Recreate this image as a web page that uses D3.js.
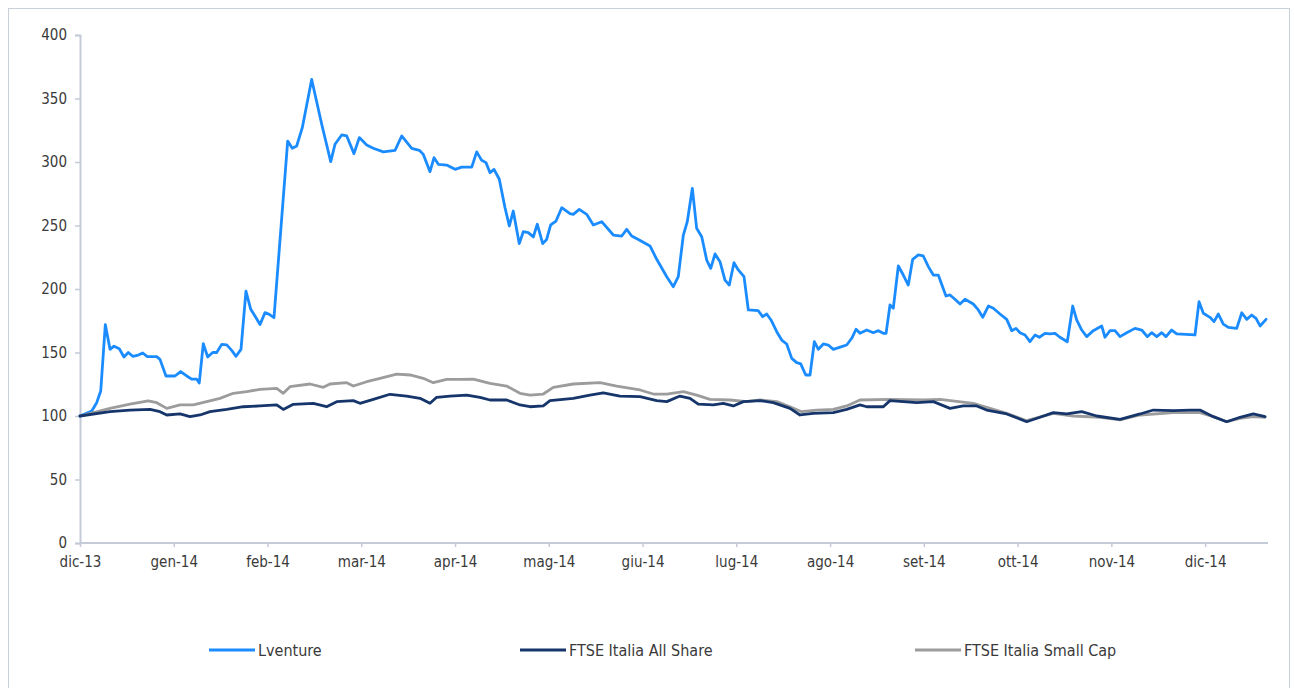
<!DOCTYPE html>
<html>
<head>
<meta charset="utf-8">
<script src="https://cdn.jsdelivr.net/npm/d3@7"></script>
<style>
html,body{margin:0;padding:0;background:#fff;}
svg text{font-family:"DejaVu Sans Condensed","DejaVu Sans",sans-serif;fill:#3a3a3a;}
</style>
</head>
<body>
<svg id="chart" width="1295" height="688"></svg>
<script>
// ---- data (t = months since dic-13) ----
const monthLabels = ["dic-13","gen-14","feb-14","mar-14","apr-14","mag-14","giu-14","lug-14","ago-14","set-14","ott-14","nov-14","dic-14"];
const yTicks = [0,50,100,150,200,250,300,350,400];
const seriesNames = ["Lventure","FTSE Italia All Share","FTSE Italia Small Cap"];

const lventureT = [0,0.125,0.178,0.221,0.27,0.32,0.363,0.419,0.469,0.515,0.562,0.622,0.669,0.718,0.818,0.853,0.917,1.013,1.074,1.138,1.191,1.245,1.272,1.315,1.362,1.415,1.458,1.511,1.565,1.618,1.664,1.717,1.77,1.821,1.866,1.92,1.973,2.019,2.069,2.215,2.264,2.311,2.371,2.471,2.578,2.674,2.72,2.791,2.845,2.922,2.979,3.058,3.128,3.235,3.36,3.431,3.538,3.619,3.662,3.733,3.776,3.822,3.911,4.0,4.071,4.178,4.231,4.284,4.33,4.373,4.416,4.472,4.533,4.579,4.621,4.685,4.728,4.781,4.835,4.877,4.935,4.977,5.02,5.077,5.138,5.226,5.261,5.325,5.404,5.475,5.564,5.688,5.778,5.831,5.884,5.955,6.079,6.151,6.258,6.328,6.381,6.435,6.477,6.531,6.577,6.631,6.684,6.727,6.773,6.826,6.879,6.925,6.975,7.021,7.082,7.128,7.234,7.281,7.324,7.37,7.431,7.484,7.537,7.591,7.644,7.687,7.74,7.786,7.832,7.875,7.928,7.981,8.034,8.124,8.177,8.231,8.277,8.319,8.391,8.461,8.515,8.568,8.597,8.639,8.674,8.728,8.781,8.834,8.881,8.941,8.994,9.048,9.101,9.154,9.236,9.279,9.332,9.386,9.439,9.527,9.581,9.628,9.688,9.741,9.812,9.884,9.937,9.983,10.026,10.079,10.132,10.186,10.232,10.292,10.346,10.399,10.452,10.53,10.588,10.63,10.684,10.737,10.807,10.897,10.932,10.986,11.039,11.092,11.164,11.252,11.324,11.383,11.43,11.484,11.537,11.583,11.643,11.697,11.892,11.935,11.981,12.052,12.095,12.141,12.194,12.248,12.337,12.391,12.444,12.497,12.543,12.586,12.65];
const lventureV = [100,104,110.5,119.7,172,152.5,155,153,146.5,150,147,148,149.6,146.7,146.7,144.6,131.5,131.5,135,131.5,129,129,126,157,146.5,150,150,156.4,156,151.7,147,152.5,198.4,184,178.7,172,181.4,180,177.4,316.5,310.8,312.6,327,365,329.7,300.3,314,321.3,320.5,306.6,319.2,313.4,310.8,308,309.2,320.5,310.8,309.2,306,292.4,303.4,298.2,297.6,294.2,296,296,308,301.3,299.5,291.6,294.2,286.4,264,249.6,261.4,235.7,245.1,244.4,241,251,235.7,239,250.4,253.5,264,259.3,258.8,262.7,258.8,250.4,253,242.5,241.7,247,241.7,239,233.9,223.4,209.7,201.8,209.7,242.5,253,279.3,247.8,241.2,222.8,216.3,227.6,221.5,207,203.1,220.7,215,209.7,183.5,182.9,178.2,180.3,175.6,166.4,159.8,156.7,145.4,142,141,132.3,132.3,158.5,152.5,156.7,155.9,152.5,154.6,155.9,161.2,168.3,165.1,167.7,165.6,167.2,165.1,165.1,187.4,184.8,218.1,211,203.1,223.4,226.8,226,217.6,211,211,194.5,195.3,191.9,188.2,191.9,188.2,183.5,177.7,186.6,184.8,180.3,176.1,167.2,169,165.6,163.8,158.5,163.8,162,165.1,164.6,165.1,162,158.5,186.6,175.6,167.7,162.5,167.2,170.9,162,167.2,167.2,162.5,165.6,169,167.7,162.5,165.6,162.5,165.6,162.5,167.7,164.6,163.8,190,180.9,177.7,174.3,180.3,172.4,169.8,169,181.3,176.1,179.5,176.9,170.9,176.1];

const allShareT = [0,0.32,0.533,0.747,0.853,0.925,1.067,1.173,1.28,1.387,1.565,1.742,1.92,2.098,2.168,2.275,2.488,2.63,2.738,2.915,2.986,3.128,3.306,3.484,3.626,3.733,3.804,3.946,4.124,4.266,4.373,4.551,4.693,4.8,4.941,5.013,5.261,5.439,5.581,5.759,5.973,6.151,6.258,6.399,6.506,6.594,6.755,6.861,6.968,7.075,7.253,7.394,7.573,7.679,7.821,8.034,8.177,8.319,8.391,8.568,8.639,8.924,9.101,9.279,9.421,9.564,9.67,9.884,10.097,10.239,10.381,10.523,10.684,10.844,11.092,11.306,11.448,11.661,11.839,11.945,12.087,12.23,12.372,12.514,12.639];
const allShareV = [100,103.4,104.7,105.2,103.4,100.8,101.6,99.5,100.8,103.4,105.2,107.3,107.9,108.7,105.2,109.2,110,107.3,111.3,112.1,110,113.1,117.1,115.7,113.9,110,114.7,115.7,116.5,114.7,112.6,112.6,108.7,107.3,107.9,112.1,113.9,116.5,118.3,115.7,115.2,112.1,111.3,115.7,113.9,109.4,108.7,110,107.9,111.3,112.1,110.5,106,100.8,102.1,102.6,105.2,108.7,107.3,107.3,112.1,110.5,111.3,106,107.9,107.9,104.7,101.6,95.5,99,102.6,101.6,103.4,100,97.4,101.6,104.7,104.2,104.7,104.7,99.5,95.5,99,101.6,99.5];

const smallCapT = [0,0.32,0.533,0.728,0.818,0.925,1.067,1.208,1.351,1.493,1.635,1.778,1.92,2.098,2.168,2.24,2.453,2.595,2.666,2.845,2.915,3.058,3.2,3.378,3.52,3.661,3.768,3.911,4.053,4.195,4.373,4.551,4.693,4.8,4.941,5.048,5.261,5.546,5.724,5.973,6.115,6.258,6.435,6.577,6.719,6.933,7.111,7.253,7.431,7.573,7.697,7.857,8.034,8.177,8.319,8.639,8.994,9.172,9.527,9.67,9.884,10.097,10.381,10.594,10.879,11.092,11.306,11.661,11.945,12.087,12.23,12.372,12.514,12.639];
const smallCapV = [100,106,109.4,112,110.5,106,108.7,108.7,111.3,113.9,117.9,119.2,121,121.8,117.9,123.1,125.2,122.6,125.2,126.2,123.6,127,129.7,133,132.3,129.7,126.2,128.9,128.9,129.1,125.7,123.6,117.9,116.5,117.3,122.6,125.2,126.2,123.6,120.5,117.3,117.3,119.2,116.5,113.1,112.6,111.3,112.6,111.3,107.3,103.4,104.7,105.2,107.9,112.6,113.1,112.6,113.1,110,106.8,102.1,96.3,102.1,100,99,96.9,100.8,102.6,102.6,99.5,95.5,98.2,99.5,99];

const colors = ["#1a8cff","#16366b","#9c9c9c"];

// ---- chart ----
const svg = d3.select("#chart");
const x = d3.scaleLinear().domain([0, 12.66]).range([80, 1267]);
const y = d3.scaleLinear().domain([0, 400]).range([543, 35]);

// frame
svg.append("rect").attr("x",8.5).attr("y",8.5).attr("width",1281).attr("height",700)
  .attr("fill","none").attr("stroke","#c9d0d8").attr("stroke-width",1);

// y axis
const yAxis = svg.append("g").attr("transform","translate(80,0)")
  .call(d3.axisLeft(y).tickValues(yTicks).tickSize(5).tickPadding(8));
// x axis
const xAxis = svg.append("g").attr("transform","translate(0,543)")
  .call(d3.axisBottom(x).tickValues(d3.range(monthLabels.length)).tickFormat(i=>monthLabels[i]).tickSize(4).tickPadding(9));
[yAxis,xAxis].forEach(g=>{
  g.select(".domain").attr("stroke","#c5cad8").attr("stroke-width",2);
  g.selectAll(".tick line").attr("stroke","#c5cad8").attr("stroke-width",1.5);
  g.selectAll("text").attr("font-size",15).attr("fill","#3a3a3a")
   .style("font-family","'DejaVu Sans Condensed','DejaVu Sans',sans-serif");
});
xAxis.select(".domain").attr("d","M80,0H1268");

const series = [
  {name:seriesNames[0], t:lventureT, v:lventureV, c:colors[0]},
  {name:seriesNames[1], t:allShareT, v:allShareV, c:colors[1]},
  {name:seriesNames[2], t:smallCapT, v:smallCapV, c:colors[2]}
];
const line = d3.line().x(d=>x(d[0])).y(d=>y(d[1]));
[series[0], series[2], series[1]].forEach(s=>{
  svg.append("path").datum(s.t.map((t,i)=>[t,s.v[i]]))
    .attr("d",line).attr("fill","none").attr("stroke",s.c)
    .attr("stroke-width",2.8).attr("stroke-linejoin","round").attr("stroke-linecap","round");
});

// legend
const legendX = [209, 520, 915];
const lg = svg.append("g");
series.forEach((s,i)=>{
  lg.append("line").attr("x1",legendX[i]).attr("x2",legendX[i]+46).attr("y1",650).attr("y2",650)
    .attr("stroke",s.c).attr("stroke-width",3);
  lg.append("text").attr("x",legendX[i]+49).attr("y",650).attr("dy","0.36em").attr("font-size",16).text(s.name);
});
</script>
</body>
</html>
